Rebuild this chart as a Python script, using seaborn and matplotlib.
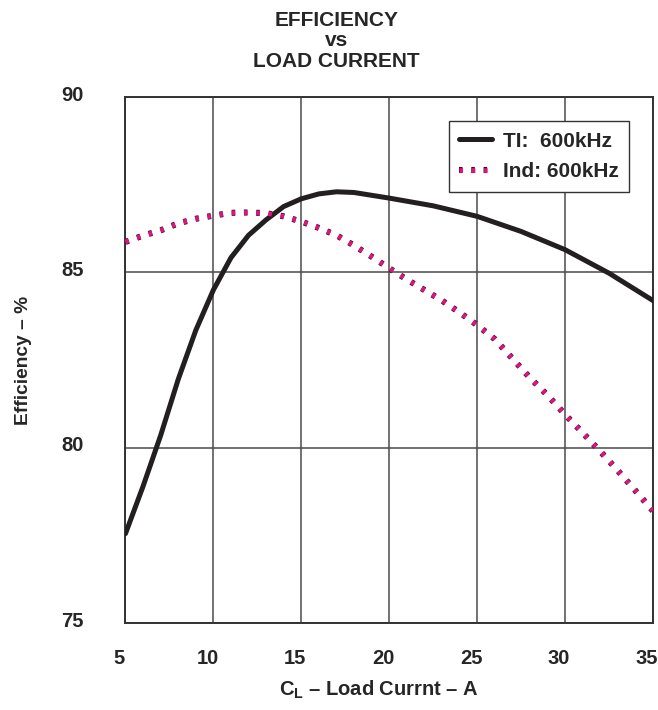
import numpy as np
import pandas as pd
import matplotlib
matplotlib.use("Agg")
import matplotlib.pyplot as plt
import matplotlib.patheffects as pe
from matplotlib.transforms import ScaledTranslation
import seaborn as sns

# ===== data =====
ti_current = [5, 6, 7, 8, 9, 10, 11, 12, 13, 14, 15, 16, 17, 18,
              20, 22.5, 25, 27.5, 30, 32.5, 35]
ti_eff = [77.55, 78.9, 80.35, 81.95, 83.35, 84.5, 85.42, 86.06, 86.5, 86.88, 87.1, 87.24,
          87.3, 87.28, 87.12, 86.9, 86.6, 86.17, 85.65, 84.98, 84.2]

ind_current = [5, 6, 7, 8, 9, 10, 11, 12, 13, 14, 15, 16, 17, 18, 19, 20,
               21, 22, 23, 24, 25, 26, 27, 28, 29, 30, 31, 32, 33, 34, 35]
ind_eff = [85.87, 86.05, 86.2, 86.4, 86.53, 86.62, 86.7, 86.71, 86.69, 86.6, 86.45,
           86.27, 86.06, 85.77, 85.45, 85.12, 84.8, 84.5, 84.2, 83.86, 83.5, 83.1,
           82.55, 82.0, 81.5, 80.95, 80.43, 79.9, 79.35, 78.78, 78.2]

series_labels = ["TI:  600kHz", "Ind: 600kHz"]
x_ticks = [5, 10, 15, 20, 25, 30, 35]
y_ticks = [75, 80, 85, 90]

sns.set_style("white")
plt.rcParams['font.family'] = ['Liberation Sans', 'DejaVu Sans']
plt.rcParams['font.weight'] = 'bold'
plt.rcParams['mathtext.fontset'] = 'custom'
plt.rcParams['mathtext.rm'] = 'Liberation Sans:bold'
plt.rcParams['mathtext.bf'] = 'Liberation Sans:bold'

fig = plt.figure(figsize=(6.58, 7.10), dpi=100)
ax = fig.add_axes([0.1907, 0.1225, 0.8015, 0.7407])

# ----- curves -----
sns.lineplot(x=ti_current, y=ti_eff, ax=ax, color='#231f20', linewidth=3.6,
             label=series_labels[0], zorder=3)
sns.lineplot(x=ind_current, y=ind_eff, ax=ax, color='#e0137f', linewidth=3.4,
             label=series_labels[1], zorder=4)
ind_line = ax.get_lines()[-1]
ind_line.set_dashes([0.75, 1.85])
ind_line.set_dash_capstyle('butt')
ind_line.set_path_effects([pe.Stroke(linewidth=4.4, foreground='#3a0d24'), pe.Normal()])

# ----- axes / grid -----
ax.set_xlim(5, 35)
ax.set_ylim(75, 90)
ax.set_xticks(x_ticks)
ax.set_yticks(y_ticks)
ax.grid(True, color='#4a4a4a', linewidth=1.1)
for s in ax.spines.values():
    s.set_color('#333333')
    s.set_linewidth(1.4)
ax.tick_params(axis='x', length=0, pad=19, labelsize=14.5)
ax.tick_params(axis='y', length=0, pad=30, labelsize=14.5)
for lab in ax.get_xticklabels():
    lab.set_fontweight('bold')
    lab.set_transform(lab.get_transform() + ScaledTranslation(-0.06, 0, fig.dpi_scale_trans))
for lab in ax.get_yticklabels():
    lab.set_fontweight('bold')
    lab.set_transform(lab.get_transform() + ScaledTranslation(0, 0.04, fig.dpi_scale_trans))

ax.set_xlabel(r"C$_\mathbf{L}$ – Load Currnt – A", fontsize=14.5, fontweight='bold')
ax.set_ylabel("Efficiency – %", fontsize=13.8, fontweight='bold')
ax.xaxis.set_label_coords(0.48, -0.105)
ax.yaxis.set_label_coords(-0.178, 0.5)

fig.text(0.511, 0.985, "EFFICIENCY\nvs\nLOAD CURRENT", ha='center', va='top',
         fontsize=15, fontweight='bold', linespacing=1.1, multialignment='center')

leg = ax.legend(loc='upper right', bbox_to_anchor=(0.955, 0.954), borderaxespad=0,
                frameon=True, fancybox=False, framealpha=1, edgecolor='#333333',
                prop={'weight': 'bold', 'size': 15}, handlelength=1.6,
                handletextpad=0.5, labelspacing=0.55, borderpad=0.5)
leg.get_frame().set_linewidth(1.0)

fig.savefig("out.png", dpi=100)
